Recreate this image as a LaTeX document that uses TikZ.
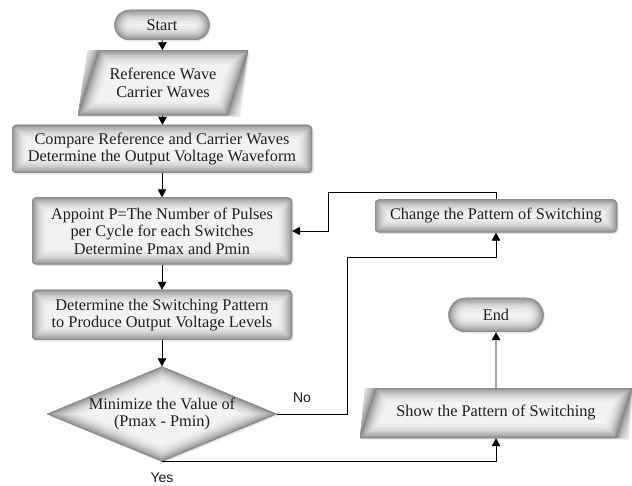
\documentclass[tikz,border=0pt]{standalone}
\usepackage{fontspec}
\setmainfont{Liberation Serif}
\newfontfamily\labelfont{Liberation Sans}
\usetikzlibrary{shapes.geometric,arrows.meta,shadows,calc}
\newcommand{\glowlayers}[1]{%
  \foreach \w/\c in {28/8,22/12,17/17,13/22,10/27,7/32,4.5/37,2.5/42,1.2/46}{%
    \draw[line width=\w pt, draw=black!\c, line join=round] #1;}}
\tikzset{
  base/.style={fill=black!5, align=center, font=\fontsize{16.3}{17.5}\selectfont, text=black!88,
    drop shadow={opacity=0.2, shadow xshift=1.5pt, shadow yshift=-1.5pt}},
  procbox/.style={base, rectangle, rounded corners=4pt, inner sep=0pt,
    path picture={\glowlayers{[rounded corners=4pt] (path picture bounding box.south west) rectangle (path picture bounding box.north east)}}},
  termbox/.style={base, rectangle, rounded corners=#1, inner sep=0pt,
    path picture={\glowlayers{[rounded corners=#1] (path picture bounding box.south west) rectangle (path picture bounding box.north east)}}},
  iobox/.style={base, trapezium, trapezium left angle=72, trapezium right angle=108,
    trapezium stretches body=true, inner sep=0pt,
    path picture={\glowlayers{(path picture bounding box.south west) -- ($(path picture bounding box.north west)+(#1,0)$) -- (path picture bounding box.north east) -- ($(path picture bounding box.south east)-(#1,0)$) -- cycle}}},
  decbox/.style={base, diamond, aspect=2.4, inner sep=0pt,
    path picture={\glowlayers{(path picture bounding box.north) -- (path picture bounding box.east) -- (path picture bounding box.south) -- (path picture bounding box.west) -- cycle}}},
  arr/.style={draw=black, line width=0.8pt, -{Triangle[length=8pt,width=8.5pt]}},
  lbl/.style={font=\labelfont\fontsize{14}{16}\selectfont, text=black!90}
}
\begin{document}
\begin{tikzpicture}[x=1pt,y=-1pt]
\useasboundingbox (0,0) rectangle (632,486);
\node[termbox=15pt, minimum width=95, minimum height=30] (start) at (162,25) {Start};
\node[iobox=21, minimum width=170, minimum height=65] (ref) at (163,83) {Reference Wave\\Carrier Waves};
\node[procbox, minimum width=300, minimum height=48] (cmp) at (162,149) {Compare Reference and Carrier Waves\\Determine the Output Voltage Waveform};
\node[procbox, minimum width=260, minimum height=67] (app) at (162,231) {Appoint P=The Number of Pulses\\per Cycle for each Switches\\Determine Pmax and Pmin};
\node[procbox, minimum width=260, minimum height=50] (det) at (162,315) {Determine the Switching Pattern\\to Produce Output Voltage Levels};
\node[decbox, minimum width=230, minimum height=95] (dia) at (162,414) {Minimize the Value of\\(Pmax - Pmin)};
\node[procbox, minimum width=242, minimum height=33] (chg) at (496,216) {Change the Pattern of Switching};
\node[termbox=17pt, minimum width=95, minimum height=34] (end) at (496,315) {End};
\node[iobox=16, minimum width=272, minimum height=50] (show) at (496,413) {Show the Pattern of Switching};

\coordinate (n1) at (347,414);
\coordinate (n2) at (347,257);
\coordinate (n3) at (328,192);

\draw[arr] (start) -- (ref);
\draw[arr] (ref) -- (cmp);
\draw[arr] (cmp) -- (app);
\draw[arr] (app) -- (det);
\draw[arr] (det) -- (dia);
\draw[arr] (dia.east) -- (n1) -- (n2) -| (chg.south);
\draw[arr] (chg.north) |- (n3) |- (app.east);
\draw[arr] (dia.south) -| (show.south);
\draw[arr] (show) -- (end);

\node[lbl] (no) at (302,398) {No};
\node[lbl] (yes) at (162,478) {Yes};
\end{tikzpicture}
\end{document}
